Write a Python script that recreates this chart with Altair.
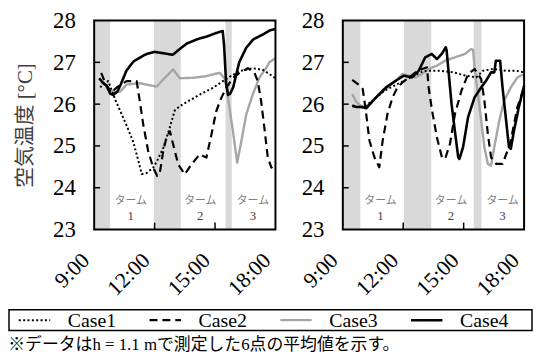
import altair as alt
import pandas as pd

# ---------------- data ----------------
CASES = ["Case1", "Case2", "Case3", "Case4"]

# left panel
L1_t = [9.30, 9.50, 9.70, 9.90, 10.05, 10.30, 10.60, 10.94, 11.19, 11.36, 11.60, 11.93, 12.10, 12.43,
        12.76, 13.00, 13.25, 13.60, 14.24, 14.90, 15.39, 15.72, 16.22, 16.87, 17.37, 17.70, 18.00]
L1_v = [26.40, 26.50, 26.55, 26.30, 26.10, 25.83, 25.50, 25.10, 24.65, 24.33, 24.35, 24.48, 24.62, 24.95,
        25.45, 25.85, 25.95, 26.05, 26.23, 26.39, 26.55, 26.65, 26.79, 26.86, 26.82, 26.72, 26.62]

L2_t = [9.35, 9.55, 9.85, 10.12, 10.61, 11.11, 11.24, 11.44, 11.68, 11.93, 12.13, 12.26, 12.43, 12.59,
        12.76, 12.92, 13.17, 13.50, 13.83, 14.24, 14.57, 14.82, 15.06, 15.31, 15.56, 15.89, 16.22, 16.63,
        16.96, 17.12, 17.29, 17.45, 17.62, 17.80, 18.00]
L2_v = [26.75, 26.50, 26.27, 26.40, 26.55, 26.55, 26.15, 25.50, 24.88, 24.48, 24.28, 24.36, 24.88, 25.20,
        25.35, 25.04, 24.56, 24.32, 24.56, 24.80, 24.72, 25.27, 25.83, 26.15, 26.39, 26.63, 26.75, 26.86,
        26.75, 26.55, 26.07, 25.43, 24.72, 24.48, 24.60]

L3_t = [9.25, 9.60, 9.95, 10.29, 10.61, 11.27, 11.77, 12.10, 12.59, 12.92, 13.25, 13.91, 14.57, 15.23,
        15.50, 15.72, 15.89, 16.10, 16.30, 16.55, 16.87, 17.20, 17.53, 17.70, 18.00]
L3_v = [26.60, 26.45, 26.28, 26.30, 26.47, 26.50, 26.45, 26.42, 26.67, 26.83, 26.62, 26.63, 26.67, 26.75,
        26.60, 25.90, 25.35, 24.60, 25.10, 25.75, 26.23, 26.63, 26.86, 27.00, 27.10]

L4_t = [9.25, 9.45, 9.60, 9.80, 9.95, 10.15, 10.30, 10.60, 10.95, 11.30, 11.60, 12.00, 12.40, 12.90,
        13.25, 13.60, 14.10, 14.60, 15.05, 15.38, 15.45, 15.55, 15.65, 15.75, 15.90, 16.20, 16.55, 16.90,
        17.35, 17.70, 18.00]
L4_v = [26.62, 26.50, 26.45, 26.25, 26.22, 26.30, 26.45, 26.80, 27.02, 27.12, 27.20, 27.25, 27.22, 27.18,
        27.32, 27.45, 27.55, 27.62, 27.70, 27.75, 27.40, 26.50, 26.22, 26.25, 26.40, 27.00, 27.35, 27.55,
        27.66, 27.76, 27.80]

# right panel
R1_t = [9.47, 9.99, 10.40, 11.06, 11.55, 12.04, 12.53, 12.86, 13.18, 13.83, 14.48, 15.14, 15.63, 15.96,
        16.45, 17.10, 17.59, 18.00]
R1_v = [25.95, 25.92, 26.05, 26.32, 26.44, 26.56, 26.68, 26.76, 26.80, 26.80, 26.76, 26.68, 26.64, 26.80,
        26.84, 26.80, 26.80, 26.76]

R2_t = [9.47, 9.75, 9.99, 10.16, 10.32, 10.57, 10.81, 10.98, 11.22, 11.47, 11.71, 11.96, 12.29, 12.61,
        12.94, 13.18, 13.26, 13.43, 13.67, 13.92, 14.08, 14.32, 14.57, 14.89, 15.22, 15.54, 15.71, 15.87,
        16.03, 16.20, 16.36, 16.61, 16.93, 17.18, 17.34, 17.67, 18.00]
R2_v = [26.58, 26.48, 26.36, 25.77, 25.13, 24.73, 24.49, 25.13, 25.77, 26.16, 26.40, 26.52, 26.64, 26.76,
        26.84, 26.88, 26.40, 25.85, 25.21, 24.73, 24.69, 25.05, 25.77, 26.32, 26.72, 26.84, 26.72, 26.60,
        26.08, 25.29, 24.73, 24.57, 24.57, 24.89, 25.13, 25.93, 26.40]

R3_t = [9.47, 9.67, 9.99, 10.23, 10.65, 11.14, 11.63, 11.96, 12.29, 12.61, 12.94, 13.26, 13.67, 14.08,
        14.57, 15.06, 15.38, 15.47, 15.54, 15.71, 15.87, 16.03, 16.20, 16.36, 16.52, 16.77, 17.01, 17.34,
        17.67, 18.00]
R3_v = [26.24, 26.05, 25.93, 25.97, 26.16, 26.36, 26.56, 26.72, 26.68, 26.64, 26.72, 26.84, 26.92, 27.04,
        27.12, 27.20, 27.32, 27.30, 26.88, 26.24, 25.61, 24.97, 24.57, 24.53, 24.97, 25.61, 26.08, 26.40,
        26.64, 26.72]

R4_t = [9.47, 9.67, 9.99, 10.16, 10.65, 11.14, 11.63, 12.03, 12.44, 12.77, 13.09, 13.42, 13.67, 13.91,
        14.11, 14.15, 14.40, 14.56, 14.73, 14.79, 14.97, 15.22, 15.54, 15.87, 16.11, 16.36, 16.52, 16.60,
        16.81, 16.93, 17.09, 17.25, 17.34, 17.50, 17.74, 18.00]
R4_v = [25.97, 25.93, 25.93, 25.90, 26.16, 26.40, 26.56, 26.68, 26.64, 26.80, 27.12, 27.20, 27.08, 27.20,
        27.36, 27.30, 26.00, 25.37, 24.73, 24.69, 24.97, 25.69, 26.16, 26.40, 26.56, 26.76, 26.76, 27.04,
        27.04, 26.40, 25.69, 24.97, 24.93, 25.37, 25.93, 26.44]

# shaded periods (hours)
BAND_L_start = [9.00, 11.97, 15.52]
BAND_L_end = [9.79, 13.30, 15.83]
BAND_R_start = [9.00, 12.03, 15.50]
BAND_R_end = [9.87, 13.39, 15.88]

# "ターム n" labels
TERM_L_x = [10.82, 14.27, 16.88]
TERM_R_x = [10.87, 14.37, 16.93]
TERM_num = ["1", "2", "3"]
TERM_word = "ターム"
TERM_word_y = 23.69
TERM_num_y = 23.33

Y_TICKS = [23, 24, 25, 26, 27, 28]
Y_INNER_TICKS = [24, 25, 26, 27]
X_TICKS = [9, 12, 15, 18]
X_INNER_TICKS = [12, 15]
X_DOMAIN = [9, 18]
Y_DOMAIN = [23, 28]

Y_TITLE = "空気温度 [°C]"
FOOTNOTE = "※データはh = 1.1 mで測定した6点の平均値を示す。"

# ---------------- styles ----------------
W, H = 183, 211
SERIF = "Liberation Serif"
MIX = "Liberation Serif, Noto Sans CJK JP"

color_scale = alt.Scale(domain=CASES, range=["#000000", "#000000", "#a6a6a6", "#000000"])
dash_scale = alt.Scale(domain=CASES, range=[[2, 2.4], [8, 5], [1, 0], [1, 0]])
width_scale = alt.Scale(domain=CASES, range=[2.0, 2.6, 2.8, 2.2])
x_scale = alt.Scale(domain=X_DOMAIN, nice=False, zero=False)
y_scale = alt.Scale(domain=Y_DOMAIN, nice=False, zero=False)

x_axis = alt.Axis(values=X_TICKS, labelExpr="datum.value + ':00'", labelAngle=315,
                  labelAlign="right", labelBaseline="middle", labelPadding=27, labelOffset=-9,
                  ticks=False, domain=False, grid=False, title=None,
                  labelFont=SERIF, labelFontSize=22, labelColor="#000000")


def y_axis(title):
    kw = dict(values=Y_TICKS, ticks=False, domain=False, grid=False, labelPadding=19,
              labelFont=SERIF, labelFontSize=23, labelColor="#000000")
    if title:
        kw.update(title=title, titleFont=MIX, titleFontSize=21, titleFontWeight="normal",
                  titleColor="#404040", titlePadding=17)
    else:
        kw.update(title=None)
    return alt.Axis(**kw)


def series(ts, vs, case):
    return pd.DataFrame({"t": ts, "v": vs, "case": case})


def panel(sers, bstart, bend, term_x, title):
    ya = y_axis(title)
    X = lambda f: alt.X(f, scale=x_scale, axis=x_axis)
    Y = lambda f: alt.Y(f, scale=y_scale, axis=ya)

    bands = alt.Chart(pd.DataFrame({"s": bstart, "e": bend})).mark_rect(color="#d9d9d9").encode(
        x=X("s:Q"), x2="e:Q", y=alt.Y(datum=Y_DOMAIN[1], scale=y_scale, axis=ya), y2=alt.datum(Y_DOMAIN[0]))

    layers = [bands]
    for case in ["Case3", "Case1", "Case2", "Case4"]:
        ts, vs = sers[case]
        layers.append(alt.Chart(series(ts, vs, case)).mark_line(strokeJoin="round").encode(
            x=X("t:Q"), y=Y("v:Q"),
            color=alt.Color("case:N", scale=color_scale, legend=None),
            strokeDash=alt.StrokeDash("case:N", scale=dash_scale, legend=None),
            strokeWidth=alt.StrokeWidth("case:N", scale=width_scale, legend=None)))

    yt = alt.Chart(pd.DataFrame({"v": Y_INNER_TICKS})).mark_rule(color="#000", strokeWidth=1.5).encode(
        y=Y("v:Q"), x=alt.value(0), x2=alt.value(6))
    xt = alt.Chart(pd.DataFrame({"t": X_INNER_TICKS})).mark_rule(color="#000", strokeWidth=1.5).encode(
        x=X("t:Q"), y=alt.value(H), y2=alt.value(H - 7))

    tdf = pd.DataFrame({"t": term_x, "num": TERM_num, "word": TERM_word,
                        "wy": TERM_word_y, "ny": TERM_num_y})
    tw = alt.Chart(tdf).mark_text(font="Noto Sans CJK JP", fontSize=11, color="#7f7f7f",
                                  baseline="middle").encode(x=X("t:Q"), y=Y("wy:Q"), text="word:N")
    tn = alt.Chart(tdf).mark_text(font=SERIF, fontSize=13, color="#404040",
                                  baseline="middle").encode(x=X("t:Q"), y=Y("ny:Q"), text="num:N")

    frame = alt.Chart(pd.DataFrame({"x0": [X_DOMAIN[0]], "x1": [X_DOMAIN[1]],
                                    "y0": [Y_DOMAIN[0]], "y1": [Y_DOMAIN[1]]})).mark_rect(
        filled=False, stroke="#000", strokeWidth=2).encode(
        x=X("x0:Q"), x2="x1:Q", y=Y("y0:Q"), y2="y1:Q")

    layers += [yt, xt, tw, tn, frame]
    return alt.layer(*layers).properties(
        width=W, height=H, view=alt.ViewBackground(stroke="transparent", strokeWidth=0))


left = panel({"Case1": (L1_t, L1_v), "Case2": (L2_t, L2_v), "Case3": (L3_t, L3_v), "Case4": (L4_t, L4_v)},
             BAND_L_start, BAND_L_end, TERM_L_x, Y_TITLE)
right = panel({"Case1": (R1_t, R1_v), "Case2": (R2_t, R2_v), "Case3": (R3_t, R3_v), "Case4": (R4_t, R4_v)},
              BAND_R_start, BAND_R_end, TERM_R_x, None)

top = alt.hconcat(left, right, spacing=21)

# ---------------- legend box ----------------
# the box spans 4 legend units (one per case); the view starts under the left plot frame
UNIT = 132          # px per legend unit
LW, LH = 442, 21    # view width (from left frame to box right), box height
D0 = 4 - LW / UNIT  # part of the box that lies left of the view origin
leg = pd.DataFrame({"case": CASES, "idx": list(range(4))})
leg["s0"] = leg["idx"] + 0.075
leg["s1"] = leg["idx"] + 0.315
leg["lx"] = leg["idx"] + 0.45
box = pd.DataFrame({"b0": [0], "b1": [4]})
lx_scale = alt.Scale(domain=[D0, 4], nice=False, zero=False)

leg_box = alt.Chart(box).mark_rect(filled=False, stroke="#000", strokeWidth=1.5).encode(
    x=alt.X("b0:Q", scale=lx_scale, axis=None), x2="b1:Q", y=alt.value(0), y2=alt.value(LH))
leg_rules = alt.Chart(leg).mark_rule().encode(
    x=alt.X("s0:Q", scale=lx_scale, axis=None), x2="s1:Q", y=alt.value(LH / 2),
    color=alt.Color("case:N", scale=color_scale, legend=None),
    strokeDash=alt.StrokeDash("case:N", scale=dash_scale, legend=None),
    strokeWidth=alt.StrokeWidth("case:N", scale=width_scale, legend=None))
leg_text = alt.Chart(leg).mark_text(align="left", baseline="middle", font=SERIF, fontSize=20,
                                    color="#000").encode(
    x=alt.X("lx:Q", scale=lx_scale, axis=None), y=alt.value(LH / 2 + 1), text="case:N")
legend = alt.layer(leg_box, leg_rules, leg_text).properties(
    width=LW, height=LH, view=alt.ViewBackground(stroke="transparent", strokeWidth=0))

chart = alt.vconcat(top, legend, spacing=9).properties(
    title=alt.TitleParams(text=FOOTNOTE, orient="bottom", anchor="start", font=MIX, fontSize=17,
                          fontWeight="normal", color="#000", offset=6),
    padding={"left": 0, "top": 0, "right": 0, "bottom": 0},
).configure(background="white")

chart.save("out.html", embed_options={"renderer": "svg", "actions": False})
